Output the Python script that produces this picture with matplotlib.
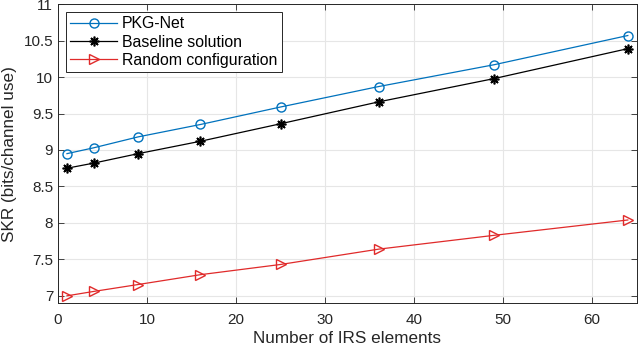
import matplotlib
matplotlib.use("Agg")
import matplotlib.pyplot as plt

plt.rcParams['font.family'] = ['Liberation Sans', 'DejaVu Sans']

irs_elements = [1, 4, 9, 16, 25, 36, 49, 64]
pkg_net = [8.95, 9.03, 9.18, 9.35, 9.59, 9.87, 10.17, 10.57]
baseline = [8.75, 8.82, 8.95, 9.12, 9.36, 9.66, 9.98, 10.39]
random_cfg = [7.00, 7.06, 7.155, 7.29, 7.43, 7.64, 7.83, 8.04]

xticks = [0, 10, 20, 30, 40, 50, 60]
yticks = [7, 7.5, 8, 8.5, 9, 9.5, 10, 10.5, 11]
ytick_labels = ['7', '7.5', '8', '8.5', '9', '9.5', '10', '10.5', '11']

fig = plt.figure(figsize=(6.38, 3.48), dpi=100)
ax = fig.add_axes([0.091, 0.129, 0.907, 0.859])

ax.plot(irs_elements, pkg_net, color='#0072BD', marker='o', markersize=6.5,
        markerfacecolor='none', markeredgewidth=1.0, linewidth=0.9, label='PKG-Net')
ax.plot(irs_elements, baseline, color='black', marker=(8, 2, 0), markersize=7,
        markeredgewidth=1.2, linewidth=0.9, label='Baseline solution')
ax.plot(irs_elements, random_cfg, color='#E02A2A', marker='>', markersize=6.5,
        markerfacecolor='none', markeredgewidth=1.0, linewidth=0.9, label='Random configuration')

ax.set_xlim(0, 65)
ax.set_ylim(6.9, 11)
ax.set_xticks(xticks)
ax.set_yticks(yticks)
ax.set_yticklabels(ytick_labels)
ax.grid(True, color='#e6e6e6', linewidth=0.8)
ax.set_axisbelow(True)
ax.tick_params(direction='in', top=True, right=True, labelsize=11,
               colors='#262626', length=4, width=0.6)
ax.tick_params(axis='x', pad=7)
ax.tick_params(axis='y', pad=3.5)
for s in ax.spines.values():
    s.set_color('#262626')
    s.set_linewidth(0.7)

ax.set_xlabel('Number of IRS elements', fontsize=12.3, color='#262626', labelpad=3)
ax.set_ylabel('SKR (bits/channel use)', fontsize=12.3, color='#262626', labelpad=5)

leg = ax.legend(loc='upper left', fontsize=11.4, frameon=True, fancybox=False,
                edgecolor='#262626', framealpha=1, borderpad=0.25, labelspacing=0.22,
                handlelength=3.0, handletextpad=0.3, borderaxespad=0.5)
leg.get_frame().set_linewidth(0.7)

fig.savefig('out.png', dpi=100)
